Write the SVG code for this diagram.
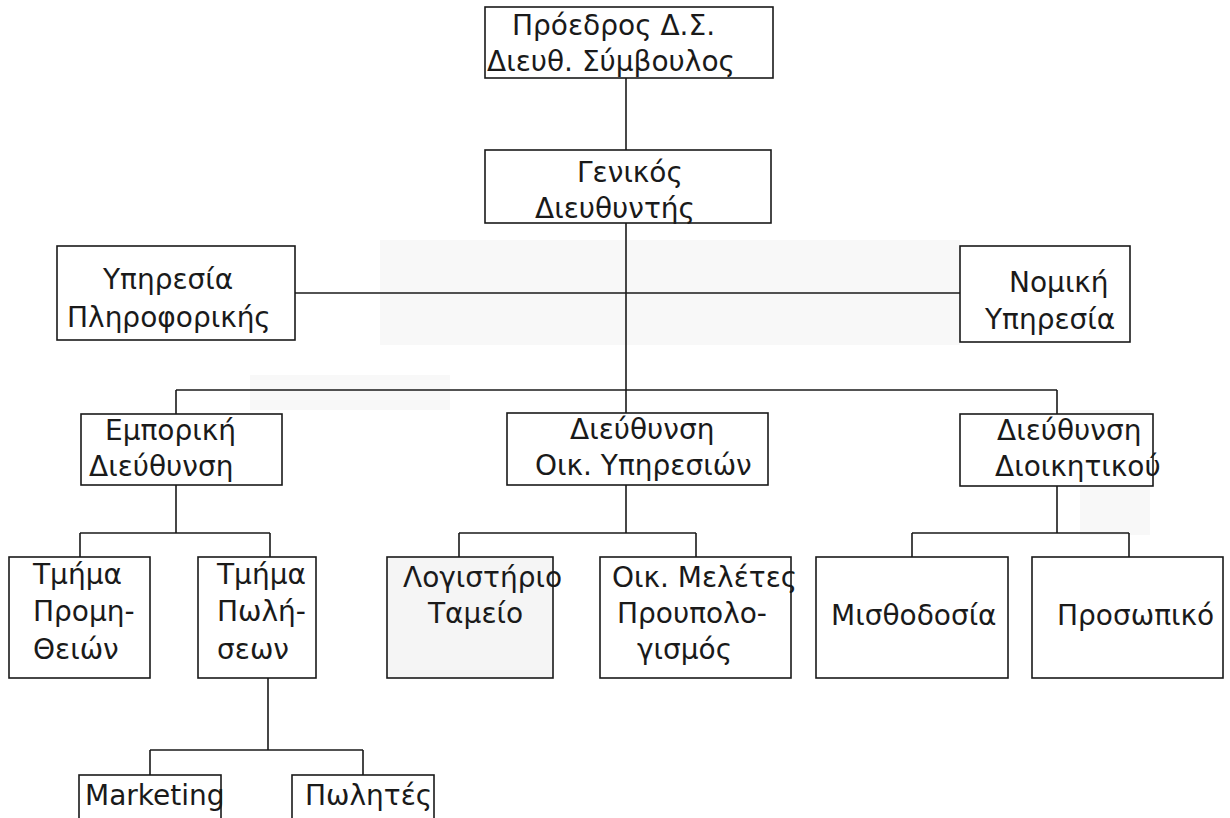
<svg xmlns="http://www.w3.org/2000/svg" width="1230" height="818" viewBox="0 0 1230 818">
<style>
.box{fill:#fff;stroke:#1a1a1a;stroke-width:1.6}
.shade{fill:#f5f5f5;stroke:#1a1a1a;stroke-width:1.6}
.t{font-family:"DejaVu Sans","Liberation Sans",sans-serif;font-size:28px;fill:#1a1a1a}
.c{fill:none;stroke:#1a1a1a;stroke-width:1.6}
.bg{fill:#f8f8f8}
</style>
<rect width="1230" height="818" fill="#fff"/>
<g id="scan-patches">
<rect class="bg" x="380" y="240" width="580" height="105"/>
<rect class="bg" x="250" y="375" width="200" height="35"/>
<rect class="bg" x="1080" y="410" width="70" height="125"/>
</g>
<g id="connectors">
<path class="c" d="M626 78V150"/>
<path class="c" d="M626 223V390"/>
<path class="c" d="M295 293H960"/>
<path class="c" d="M176 390H1057"/>
<path class="c" d="M176 390V414M626 390V413M1057 390V414"/>
<path class="c" d="M176 485V533M80 533H270M80 533V557M270 533V557"/>
<path class="c" d="M626 485V533M459 533H696M459 533V557M696 533V557"/>
<path class="c" d="M1057 486V533M912 533H1129M912 533V557M1129 533V557"/>
<path class="c" d="M268 678V750M150 750H363M150 750V775M363 750V775"/>
</g>
<g id="n-proedros">
<rect class="box" x="485" y="7" width="288" height="71"/>
<text class="t" x="512" y="35">Πρόεδρος Δ.Σ.</text>
<text class="t" x="487" y="71">Διευθ. Σύμβουλος</text>
</g>
<g id="n-genikos">
<rect class="box" x="485" y="150" width="286" height="73"/>
<text class="t" x="577" y="182">Γενικός</text>
<text class="t" x="535" y="218">Διευθυντής</text>
</g>
<g id="n-pliroforiki">
<rect class="box" x="57" y="246" width="238" height="94"/>
<text class="t" x="103" y="289">Υπηρεσία</text>
<text class="t" x="67" y="327">Πληροφορικής</text>
</g>
<g id="n-nomiki">
<rect class="box" x="960" y="246" width="170" height="96"/>
<text class="t" x="1009" y="292">Νομική</text>
<text class="t" x="985" y="329">Υπηρεσία</text>
</g>
<g id="n-emporiki">
<rect class="box" x="81" y="414" width="201" height="71"/>
<text class="t" x="105" y="440">Εμπορική</text>
<text class="t" x="89" y="476">Διεύθυνση</text>
</g>
<g id="n-oikonomikes">
<rect class="box" x="507" y="413" width="261" height="72"/>
<text class="t" x="570" y="439">Διεύθυνση</text>
<text class="t" x="535" y="475">Οικ. Υπηρεσιών</text>
</g>
<g id="n-dioikitikou">
<rect class="box" x="960" y="414" width="193" height="72"/>
<text class="t" x="997" y="440">Διεύθυνση</text>
<text class="t" x="995" y="476">Διοικητικού</text>
</g>
<g id="n-promitheion">
<rect class="box" x="9" y="557" width="141" height="121"/>
<text class="t" x="33" y="584">Τμήμα</text>
<text class="t" x="33" y="621">Προμη-</text>
<text class="t" x="33" y="659">Θειών</text>
</g>
<g id="n-poliseon">
<rect class="box" x="198" y="557" width="118" height="121"/>
<text class="t" x="217" y="584">Τμήμα</text>
<text class="t" x="217" y="621">Πωλή-</text>
<text class="t" x="217" y="659">σεων</text>
</g>
<g id="n-logistirio">
<rect class="shade" x="387" y="557" width="166" height="121"/>
<text class="t" x="403" y="587">Λογιστήριο</text>
<text class="t" x="428" y="623">Ταμείο</text>
</g>
<g id="n-meletes">
<rect class="box" x="600" y="557" width="191" height="121"/>
<text class="t" x="612" y="587">Οικ. Μελέτες</text>
<text class="t" x="617" y="623">Προυπολο-</text>
<text class="t" x="637" y="659">γισμός</text>
</g>
<g id="n-misthodosia">
<rect class="box" x="816" y="557" width="192" height="121"/>
<text class="t" x="831" y="625">Μισθοδοσία</text>
</g>
<g id="n-prosopiko">
<rect class="box" x="1032" y="557" width="191" height="121"/>
<text class="t" x="1057" y="625">Προσωπικό</text>
</g>
<g id="n-marketing">
<rect class="box" x="79" y="775" width="142" height="60"/>
<text class="t" x="85" y="805">Marketing</text>
</g>
<g id="n-polites">
<rect class="box" x="292" y="775" width="142" height="60"/>
<text class="t" x="305" y="805">Πωλητές</text>
</g>
</svg>
